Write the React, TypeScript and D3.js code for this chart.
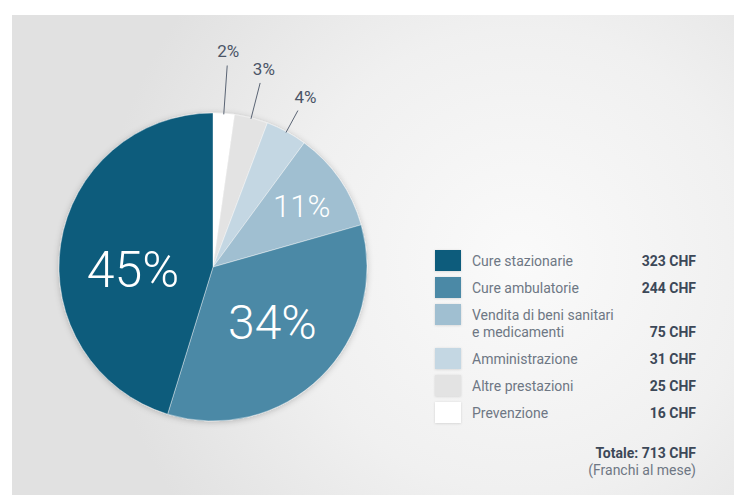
import React from "react";
import * as d3 from "d3";

// ---- data ----
const categories = [
  "Cure stazionarie",
  "Cure ambulatorie",
  "Vendita di beni sanitari\ne medicamenti",
  "Amministrazione",
  "Altre prestazioni",
  "Prevenzione",
];
const valuesCHF = [323, 244, 75, 31, 25, 16];
const percentLabels = ["45%", "34%", "11%", "4%", "3%", "2%"];
const colors = ["#0b5b7c", "#4b89a6", "#a0bfd1", "#c4d7e3", "#e3e3e3", "#ffffff"];
const totalLabel = "Totale: 713 CHF";
const unitLabel = "(Franchi al mese)";

// ---- layout ----
const W = 734;
const H = 496;
const CX = 213;
const CY = 267;
const R = 154;

// inner label placement (radius, angle tweak) for the three large slices
const innerLabel: Record<number, { r: number; da: number; size: number }> = {
  0: { r: 80, da: -0.17, size: 50 },
  1: { r: 81, da: -0.05, size: 48 },
  2: { r: 108, da: 0, size: 31 },
};
// outer leader lengths for the small slices
const outerLabel: Record<number, { lineEnd: number; labelR: number }> = {
  3: { lineEnd: 178, labelR: 194 },
  4: { lineEnd: 190, labelR: 205 },
  5: { lineEnd: 202, labelR: 217 },
};

export default function App() {
  // reverse so that Prevenzione starts at 12 o'clock, clockwise
  const order = d3.range(categories.length).reverse();
  const pie = d3
    .pie<number>()
    .sort(null)
    .value((i) => valuesCHF[i]);
  const arcs = pie(order);
  const arcGen = d3.arc<d3.PieArcDatum<number>>().innerRadius(0).outerRadius(R);

  const legendX = 435;
  const textX = 472;
  const valueX = 696;
  const rowY: number[] = [];
  let y = 261;
  categories.forEach((c) => {
    rowY.push(y);
    y += 27 + (c.includes("\n") ? 17 : 0);
  });

  return (
    <svg
      width={W}
      height={H}
      style={{ position: "absolute", left: 0, top: 0, display: "block" }}
      fontFamily="Roboto, 'DejaVu Sans', sans-serif"
    >
      <defs>
        <radialGradient id="bg" cx="520" cy="260" r="420" gradientUnits="userSpaceOnUse">
          <stop offset="0" stopColor="#fafafa" />
          <stop offset="0.55" stopColor="#f0f0f0" />
          <stop offset="1" stopColor="#e1e1e1" />
        </radialGradient>
        <filter id="shadow" x="-20%" y="-20%" width="140%" height="140%">
          <feDropShadow dx="0" dy="1" stdDeviation="3" floodColor="#000" floodOpacity="0.22" />
        </filter>
        <filter id="sshadow" x="-30%" y="-30%" width="160%" height="160%">
          <feDropShadow dx="0" dy="0.5" stdDeviation="1.2" floodColor="#000" floodOpacity="0.15" />
        </filter>
      </defs>
      <rect x={0} y={0} width={W} height={H} fill="#ffffff" />
      <rect x={12} y={15} width={W - 12} height={480} fill="url(#bg)" />

      <g transform={`translate(${CX},${CY})`}>
        <g filter="url(#shadow)">
          {arcs.map((a) => (
            <path
              key={a.data}
              d={arcGen(a) || ""}
              fill={colors[a.data]}
              stroke="#ffffff"
              strokeOpacity={0.5}
              strokeWidth={0.8}
            />
          ))}
        </g>
        {arcs.map((a) => {
          const i = a.data;
          const mid = (a.startAngle + a.endAngle) / 2;
          if (innerLabel[i]) {
            const { r, da, size } = innerLabel[i];
            const ang = mid + da;
            return (
              <text
                key={"l" + i}
                x={Math.sin(ang) * r}
                y={-Math.cos(ang) * r}
                dy="0.36em"
                textAnchor="middle"
                fill="#ffffff"
                fontSize={size}
                fontWeight={300}
              >
                {percentLabels[i]}
              </text>
            );
          }
          const o = outerLabel[i];
          return (
            <g key={"l" + i}>
              <line
                x1={Math.sin(mid) * (R - 1)}
                y1={-Math.cos(mid) * (R - 1)}
                x2={Math.sin(mid) * o.lineEnd}
                y2={-Math.cos(mid) * o.lineEnd}
                stroke="#5a6474"
                strokeWidth={1}
              />
              <text
                x={Math.sin(mid) * o.labelR}
                y={-Math.cos(mid) * o.labelR}
                dy="0.36em"
                textAnchor="middle"
                fill="#4b5567"
                fontSize={17}
              >
                {percentLabels[i]}
              </text>
            </g>
          );
        })}
      </g>

      <g>
        {categories.map((c, i) => {
          const lines = c.split("\n");
          const yy = rowY[i];
          return (
            <g key={c}>
              <rect
                x={legendX}
                y={yy - 11}
                width={26}
                height={21}
                fill={colors[i]}
                filter="url(#sshadow)"
              />
              {lines.map((ln, k) => (
                <text
                  key={k}
                  x={textX}
                  y={yy + k * 17}
                  dy="0.36em"
                  fill="#6e7784"
                  fontSize={14}
                >
                  {ln}
                </text>
              ))}
              <text
                x={valueX}
                y={yy + (lines.length - 1) * 17}
                dy="0.36em"
                textAnchor="end"
                fill="#3c4858"
                fontSize={14}
                fontWeight={700}
              >
                {valuesCHF[i]} CHF
              </text>
            </g>
          );
        })}
        <text x={valueX} y={453} dy="0.36em" textAnchor="end" fill="#3c4858" fontSize={14} fontWeight={700}>
          {totalLabel}
        </text>
        <text x={valueX} y={470} dy="0.36em" textAnchor="end" fill="#6e7784" fontSize={14}>
          {unitLabel}
        </text>
      </g>
    </svg>
  );
}
